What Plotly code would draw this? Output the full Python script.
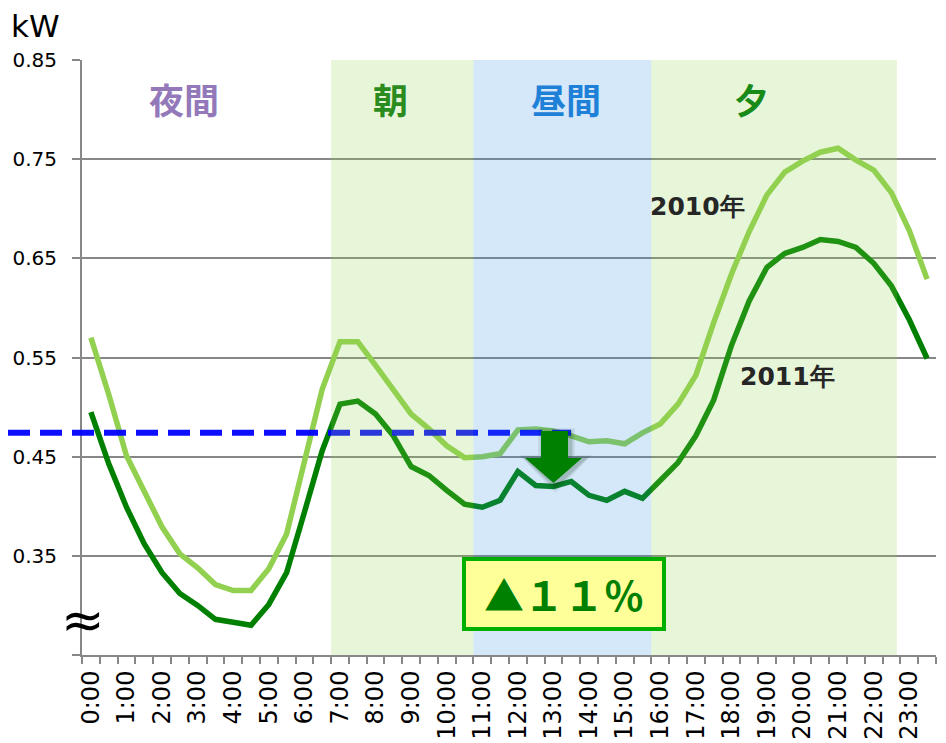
import plotly.graph_objects as go

# ---------------- data ----------------
times = ["0:00", "0:30", "1:00", "1:30", "2:00", "2:30", "3:00", "3:30",
         "4:00", "4:30", "5:00", "5:30", "6:00", "6:30", "7:00", "7:30",
         "8:00", "8:30", "9:00", "9:30", "10:00", "10:30", "11:00", "11:30",
         "12:00", "12:30", "13:00", "13:30", "14:00", "14:30", "15:00", "15:30",
         "16:00", "16:30", "17:00", "17:30", "18:00", "18:30", "19:00", "19:30",
         "20:00", "20:30", "21:00", "21:30", "22:00", "22:30", "23:00", "23:30"]
tick_text = [t if t.endswith(":00") else "" for t in times]

kw_2010 = [0.570, 0.513, 0.451, 0.414, 0.379, 0.352, 0.338, 0.321,
           0.315, 0.315, 0.337, 0.372, 0.443, 0.518, 0.566, 0.566,
           0.542, 0.518, 0.493, 0.478, 0.461, 0.449, 0.450, 0.453,
           0.477, 0.478, 0.476, 0.471, 0.465, 0.466, 0.463, 0.474,
           0.483, 0.503, 0.532, 0.585, 0.634, 0.677, 0.714, 0.737,
           0.748, 0.757, 0.761, 0.749, 0.739, 0.716, 0.678, 0.629]
kw_2011 = [0.495, 0.443, 0.399, 0.362, 0.333, 0.312, 0.300, 0.286,
           0.283, 0.280, 0.301, 0.333, 0.394, 0.456, 0.503, 0.506,
           0.493, 0.471, 0.440, 0.431, 0.416, 0.402, 0.399, 0.406,
           0.435, 0.421, 0.420, 0.425, 0.411, 0.406, 0.415, 0.408,
           0.426, 0.444, 0.471, 0.507, 0.562, 0.607, 0.641, 0.655,
           0.661, 0.669, 0.667, 0.661, 0.645, 0.622, 0.588, 0.549]

y_ticks = [0.25, 0.35, 0.45, 0.55, 0.65, 0.75, 0.85]
y_tick_text = ["", "0.35", "0.45", "0.55", "0.65", "0.75", "0.85"]
reference_level = 0.4742   # blue dashed line
reduction_text = "▲１１％"

# ---------------- layout helpers ----------------
# the page body adds an 8px margin, so the figure is made 8px smaller
OFF = 8
W, H = 946 - OFF, 743 - OFF
PL, PT = 82, 60            # plot-area top-left on the page
PW, PH = 854, 595          # plot-area size
ML, MT = PL - OFF, PT - OFF
MR, MB = W - ML - PW, H - MT - PH


def px(x):   # page pixel -> paper fraction
    return (x - PL) / PW


def py(y):
    return (PT + PH - y) / PH


fig = go.Figure()
fig.add_trace(go.Scatter(x=times, y=kw_2010, mode="lines",
                         line=dict(color="#92D050", width=5.5), showlegend=False))
fig.add_trace(go.Scatter(x=times, y=kw_2011, mode="lines",
                         line=dict(color="#008000", width=5.5), showlegend=False))

GRID = "#878787"
fig.update_layout(
    width=W, height=H,
    margin=dict(l=ML, r=MR, t=MT, b=MB, autoexpand=False),
    paper_bgcolor="white", plot_bgcolor="rgba(0,0,0,0)",
    showlegend=False,
    xaxis=dict(type="category", categoryorder="array", categoryarray=times,
               range=[-0.5, len(times) - 0.5], automargin=False,
               tickmode="array", tickvals=times, ticktext=tick_text,
               tickson="boundaries", ticks="outside", ticklen=7, tickwidth=2,
               tickcolor=GRID, showline=True, linecolor=GRID, linewidth=2,
               showgrid=False, tickangle=-90, ticklabelstandoff=4,
               tickfont=dict(family="DejaVu Sans", size=24, color="black")),
    yaxis=dict(range=[0.25, 0.85], tickmode="array", tickvals=y_ticks,
               ticktext=y_tick_text, ticks="outside", ticklen=8, tickwidth=2,
               automargin=False, ticklabelstandoff=11,
               tickcolor=GRID, showline=True, linecolor=GRID, linewidth=2,
               showgrid=True, gridcolor=GRID, gridwidth=2, zeroline=False,
               tickfont=dict(family="DejaVu Sans", size=20, color="black")),
)

shapes = []
# dashed reference line (under the translucent bands)
shapes.append(dict(type="line", xref="paper", yref="y", x0=px(OFF), x1=px(571),
                   y0=reference_level, y1=reference_level, layer="above",
                   line=dict(color="rgba(0,0,255,0.95)", width=6, dash="22px,10px")))
# period bands
bands = [(13.5, 21.5, "rgba(146,208,80,0.22)"),
         (21.5, 31.5, "rgba(40,140,230,0.20)"),
         (31.5, 45.3, "rgba(146,208,80,0.22)")]
for x0, x1, c in bands:
    shapes.append(dict(type="rect", xref="x", yref="paper", x0=x0, x1=x1, y0=0, y1=1,
                       fillcolor=c, line=dict(width=0), layer="above"))


def arrow_path(dx=0, dy=0, grow=0):
    pts = [(541 - grow, 431 - grow), (568 + grow, 431 - grow), (568 + grow, 458 - grow),
           (582 + grow * 1.6, 458 - grow), (553.5, 483 + grow * 1.6),
           (525 - grow * 1.6, 458 - grow), (541 - grow, 458 - grow)]
    s = ""
    for k, (x, y) in enumerate(pts):
        s += ("M" if k == 0 else "L") + f"{px(x + dx):.5f},{py(y + dy):.5f} "
    return s + "Z"


for g, a in [(5, 0.06), (3.5, 0.08), (2, 0.12)]:
    shapes.append(dict(type="path", xref="paper", yref="paper", path=arrow_path(2, 2, g),
                       fillcolor=f"rgba(0,40,0,{a})", line=dict(width=0), layer="above"))
shapes.append(dict(type="path", xref="paper", yref="paper", path=arrow_path(),
                   fillcolor="#008000", line=dict(width=0), layer="above"))
fig.update_layout(shapes=shapes)

JP = "Noto Sans CJK JP"
ann = [
    dict(x=px(9), y=py(26), text="kW", xanchor="left",
         font=dict(family="DejaVu Sans", size=31, color="black")),
    dict(x=px(184), y=py(98), text="<b>夜間</b>", font=dict(family=JP, size=35, color="#9479BA")),
    dict(x=px(390), y=py(98), text="<b>朝</b>", font=dict(family=JP, size=35, color="#2A8C1E")),
    dict(x=px(566), y=py(98), text="<b>昼間</b>", font=dict(family=JP, size=35, color="#1E80D6")),
    dict(x=px(751), y=py(98), text="<b>夕</b>", font=dict(family=JP, size=35, color="#178A17")),
    dict(x=px(697), y=py(206), text="<b>2010年</b>", font=dict(family="DejaVu Sans", size=25, color="#262626")),
    dict(x=px(787), y=py(376), text="<b>2011年</b>", font=dict(family="DejaVu Sans", size=25, color="#262626")),
    dict(x=px(83), y=py(620), text="≈", font=dict(family="DejaVu Sans", size=52, color="black")),
    dict(x=px(564), y=py(593.5), text=f"<b>{reduction_text}</b>",
         font=dict(family=JP, size=40, color="#008000"),
         bgcolor="#FFFF99", bordercolor="#00B000", borderwidth=4, borderpad=0,
         width=196, height=66),
]
for a in ann:
    a.setdefault("xref", "paper")
    a.setdefault("yref", "paper")
    a.setdefault("showarrow", False)
    a.setdefault("xanchor", "center")
    a.setdefault("yanchor", "middle")
fig.update_layout(annotations=ann)

fig.write_html("out.html")
